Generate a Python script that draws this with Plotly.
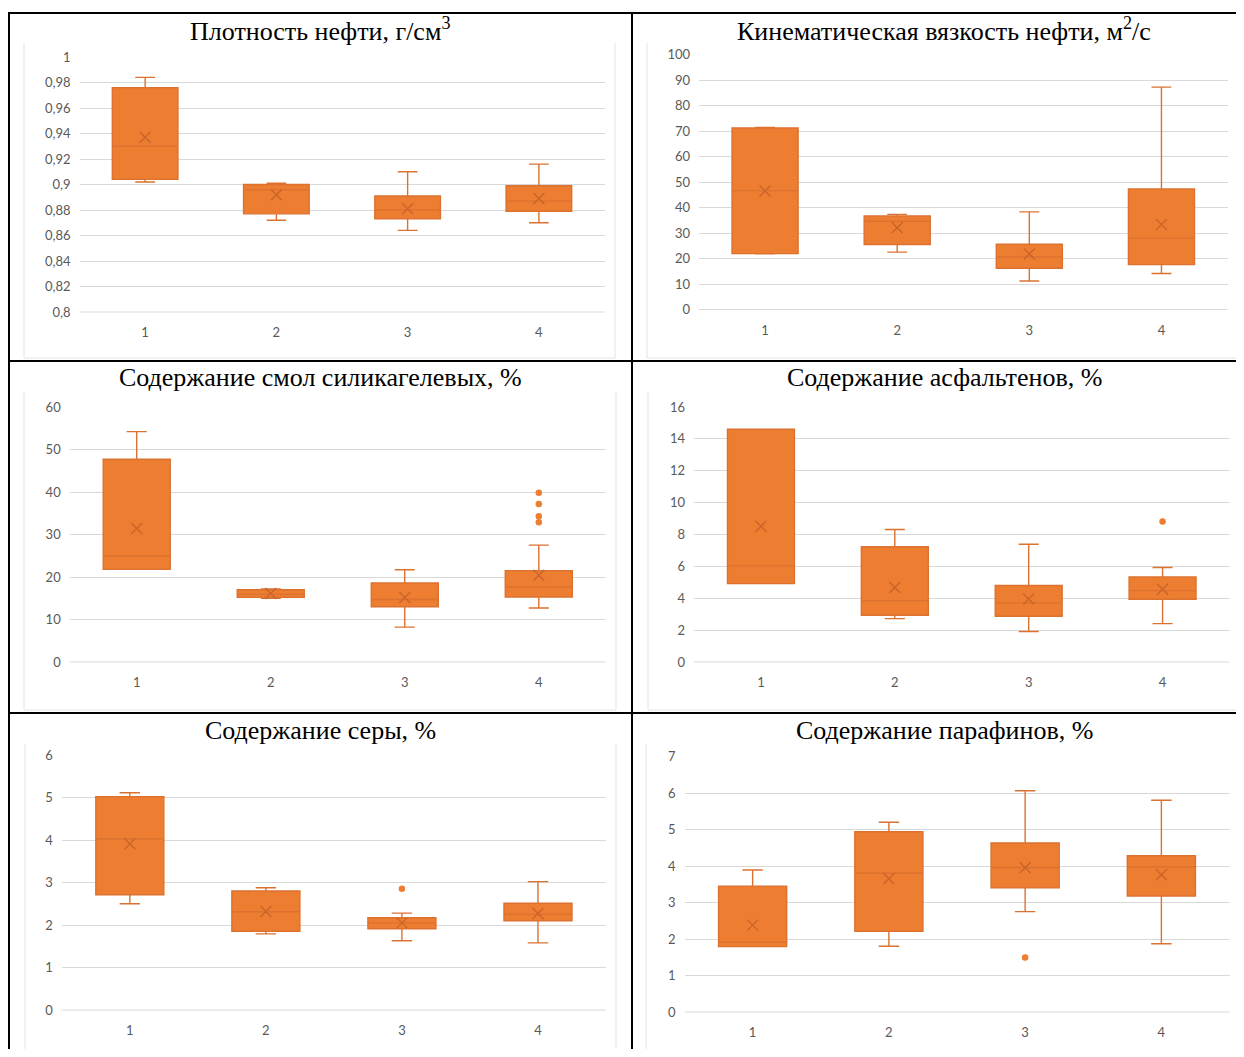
import plotly.graph_objects as go

# The page body has an 8px margin; size the figure so the page does not overflow
# the 1244x1057 window and map reference pixels with that offset.
OX, OY = 8, 8
FW, FH = 1228, 1041

categories = [1, 2, 3, 4]
category_labels = ["1", "2", "3", "4"]

# ---------- data ----------
titles = [
    "Плотность нефти, г/см<sup>3</sup>",
    "Кинематическая вязкость нефти, м<sup>2</sup>/с",
    "Содержание смол силикагелевых, %",
    "Содержание асфальтенов, %",
    "Содержание серы, %",
    "Содержание парафинов, %",
]

# 1. density
dens_low = [0.902, 0.872, 0.864, 0.870]
dens_q1 = [0.904, 0.877, 0.873, 0.879]
dens_med = [0.930, 0.896, 0.880, 0.887]
dens_q3 = [0.976, 0.900, 0.891, 0.899]
dens_up = [0.984, 0.901, 0.910, 0.916]
dens_mean = [0.937, 0.892, 0.881, 0.889]
dens_out_x, dens_out_y = [], []
dens_ticks = [0.8, 0.82, 0.84, 0.86, 0.88, 0.9, 0.92, 0.94, 0.96, 0.98, 1.0]
dens_ticklabels = ["0,8", "0,82", "0,84", "0,86", "0,88", "0,9", "0,92", "0,94", "0,96", "0,98", "1"]

# 2. viscosity
visc_low = [21.8, 22.5, 11.2, 14.1]
visc_q1 = [21.9, 25.5, 16.2, 17.6]
visc_med = [46.6, 34.6, 20.6, 27.9]
visc_q3 = [71.2, 36.7, 25.6, 47.3]
visc_up = [71.4, 37.3, 38.3, 87.2]
visc_mean = [46.5, 32.1, 21.8, 33.3]
visc_out_x, visc_out_y = [], []
visc_ticks = [0, 10, 20, 30, 40, 50, 60, 70, 80, 90, 100]
visc_ticklabels = ["0", "10", "20", "30", "40", "50", "60", "70", "80", "90", "100"]

# 3. resins
res_low = [21.8, 15.0, 8.2, 12.7]
res_q1 = [21.8, 15.2, 13.0, 15.3]
res_med = [25.0, 15.9, 14.7, 17.7]
res_q3 = [47.7, 17.0, 18.6, 21.5]
res_up = [54.2, 17.2, 21.7, 27.5]
res_mean = [31.4, 16.1, 15.2, 20.4]
res_out_x = [4, 4, 4, 4]
res_out_y = [39.8, 37.2, 34.3, 32.9]
res_ticks = [0, 10, 20, 30, 40, 50, 60]
res_ticklabels = ["0", "10", "20", "30", "40", "50", "60"]

# 4. asphaltenes
asp_low = [4.92, 2.72, 1.91, 2.41]
asp_q1 = [4.92, 2.93, 2.87, 3.94]
asp_med = [6.03, 3.85, 3.71, 4.48]
asp_q3 = [14.6, 7.23, 4.80, 5.34]
asp_up = [14.6, 8.31, 7.39, 5.93]
asp_mean = [8.52, 4.67, 3.96, 4.57]
asp_out_x = [4]
asp_out_y = [8.82]
asp_ticks = [0, 2, 4, 6, 8, 10, 12, 14, 16]
asp_ticklabels = ["0", "2", "4", "6", "8", "10", "12", "14", "16"]

# 5. sulfur
sul_low = [2.50, 1.79, 1.63, 1.58]
sul_q1 = [2.71, 1.85, 1.91, 2.10]
sul_med = [4.03, 2.31, 2.05, 2.25]
sul_q3 = [5.02, 2.80, 2.17, 2.51]
sul_up = [5.11, 2.875, 2.28, 3.02]
sul_mean = [3.91, 2.32, 2.05, 2.27]
sul_out_x = [3]
sul_out_y = [2.85]
sul_ticks = [0, 1, 2, 3, 4, 5, 6]
sul_ticklabels = ["0", "1", "2", "3", "4", "5", "6"]

# 6. paraffins
par_low = [1.79, 1.80, 2.75, 1.87]
par_q1 = [1.79, 2.21, 3.40, 3.18]
par_med = [1.91, 3.80, 3.96, 3.98]
par_q3 = [3.45, 4.94, 4.63, 4.28]
par_up = [3.89, 5.20, 6.06, 5.80]
par_mean = [2.38, 3.65, 3.95, 3.76]
par_out_x = [3]
par_out_y = [1.49]
par_ticks = [0, 1, 2, 3, 4, 5, 6, 7]
par_ticklabels = ["0", "1", "2", "3", "4", "5", "6", "7"]

panels = [
    (dens_low, dens_q1, dens_med, dens_q3, dens_up, dens_mean, dens_out_x, dens_out_y, dens_ticks, dens_ticklabels),
    (visc_low, visc_q1, visc_med, visc_q3, visc_up, visc_mean, visc_out_x, visc_out_y, visc_ticks, visc_ticklabels),
    (res_low, res_q1, res_med, res_q3, res_up, res_mean, res_out_x, res_out_y, res_ticks, res_ticklabels),
    (asp_low, asp_q1, asp_med, asp_q3, asp_up, asp_mean, asp_out_x, asp_out_y, asp_ticks, asp_ticklabels),
    (sul_low, sul_q1, sul_med, sul_q3, sul_up, sul_mean, sul_out_x, sul_out_y, sul_ticks, sul_ticklabels),
    (par_low, par_q1, par_med, par_q3, par_up, par_mean, par_out_x, par_out_y, par_ticks, par_ticklabels),
]

# ---------- layout geometry (reference-window pixels) ----------
plot_px = [
    (79.5, 604.5, 57, 312),
    (699, 1227.5, 54.5, 309.5),
    (69.7, 605.8, 407, 662),
    (694, 1229.5, 407, 662),
    (61.8, 606, 755, 1010),
    (684.5, 1229.5, 756.5, 1012),
]
title_px = [(320, 29), (944, 29), (320, 378), (944, 378), (320, 730), (944, 730)]
frame_px = [
    (24, 615, 43, 358),
    (647, 1238, 43, 358),
    (24, 616, 392, 710),
    (648, 1238, 392, 710),
    (25, 616, 744, 1070),
    (646, 1238, 744, 1070),
]

FILL = "#ED7D31"
LINE = "#DB7230"
MEANC = "#C9642A"
GRID = "#D9D9D9"
TICKC = "#595959"


def px_x(x):
    return (x - OX) / FW


def px_y(y):
    return 1 - (y - OY) / FH


fig = go.Figure()
layout = dict(
    width=FW, height=FH,
    margin=dict(l=0, r=0, t=0, b=0, autoexpand=False),
    paper_bgcolor="white", plot_bgcolor="white",
    showlegend=False,
    shapes=[], annotations=[],
)

for i, (low, q1, med, q3, up, mean, ox, oy, tv, tt) in enumerate(panels):
    k = "" if i == 0 else str(i + 1)
    xa, ya = "x" + k, "y" + k
    fig.add_trace(go.Box(
        x=categories, q1=q1, median=med, q3=q3, lowerfence=low, upperfence=up,
        width=0.5, whiskerwidth=0.3, boxpoints=False,
        fillcolor=FILL, line=dict(color=LINE, width=1.4),
        xaxis=xa, yaxis=ya, hoverinfo="skip",
    ))
    fig.add_trace(go.Scatter(
        x=categories, y=mean, mode="markers",
        marker=dict(symbol="x-thin", size=11, line=dict(color=MEANC, width=1.4)),
        xaxis=xa, yaxis=ya, hoverinfo="skip",
    ))
    if ox:
        fig.add_trace(go.Scatter(
            x=ox, y=oy, mode="markers",
            marker=dict(symbol="circle", size=6.5, color=FILL, line=dict(width=0)),
            xaxis=xa, yaxis=ya, hoverinfo="skip",
        ))
    x0, x1, yt, yb = plot_px[i]
    layout["xaxis" + k] = dict(
        domain=[px_x(x0), min(1, px_x(x1))], range=[0.5, 4.5], anchor=ya,
        tickvals=categories, ticktext=category_labels, showgrid=False, zeroline=False,
        showline=False, ticks="", ticklabelstandoff=11, automargin=False,
        tickfont=dict(family="Lato", size=13, color=TICKC), fixedrange=True,
    )
    layout["yaxis" + k] = dict(
        domain=[px_y(yb), px_y(yt)], range=[tv[0], tv[-1]], anchor=xa,
        tickvals=tv, ticktext=tt, showgrid=True, gridcolor=GRID, gridwidth=1,
        zeroline=False, showline=False, ticks="", ticklabelstandoff=8, automargin=False,
        tickfont=dict(family="Lato", size=13, color=TICKC), fixedrange=True,
    )
    layout["shapes"].append(dict(type="line", xref="paper", yref="paper",
                                 x0=px_x(x0), x1=px_x(x1), y0=px_y(yb), y1=px_y(yb),
                                 line=dict(color=GRID, width=1), layer="below"))
    fx0, fx1, fy0, fy1 = frame_px[i]
    layout["shapes"].append(dict(
        type="path", xref="paper", yref="paper",
        path=f"M {px_x(fx0)},{px_y(fy0)} L {px_x(fx0)},{px_y(fy1)} L {px_x(fx1)},{px_y(fy1)} L {px_x(fx1)},{px_y(fy0)}",
        line=dict(color="#E4E4E4", width=1), layer="below"))
    tx, ty = title_px[i]
    layout["annotations"].append(dict(
        text=titles[i], x=px_x(tx), y=px_y(ty), xref="paper", yref="paper",
        xanchor="center", yanchor="middle", showarrow=False,
        font=dict(family="Liberation Serif", size=26, color="black")))

border = dict(color="black", width=2)
for (xa_, ya_, xb_, yb_) in [
    (8, 13, 1250, 13),
    (8, 361, 1250, 361),
    (8, 713, 1250, 713),
    (9, 12, 9, 1070),
    (632, 12, 632, 1070),
    (1243, 12, 1243, 1070),
]:
    layout["shapes"].append(dict(type="line", xref="paper", yref="paper",
                                 x0=px_x(xa_), y0=px_y(ya_), x1=px_x(xb_), y1=px_y(yb_),
                                 line=border))

fig.update_layout(**layout)
fig.write_html("out.html")
